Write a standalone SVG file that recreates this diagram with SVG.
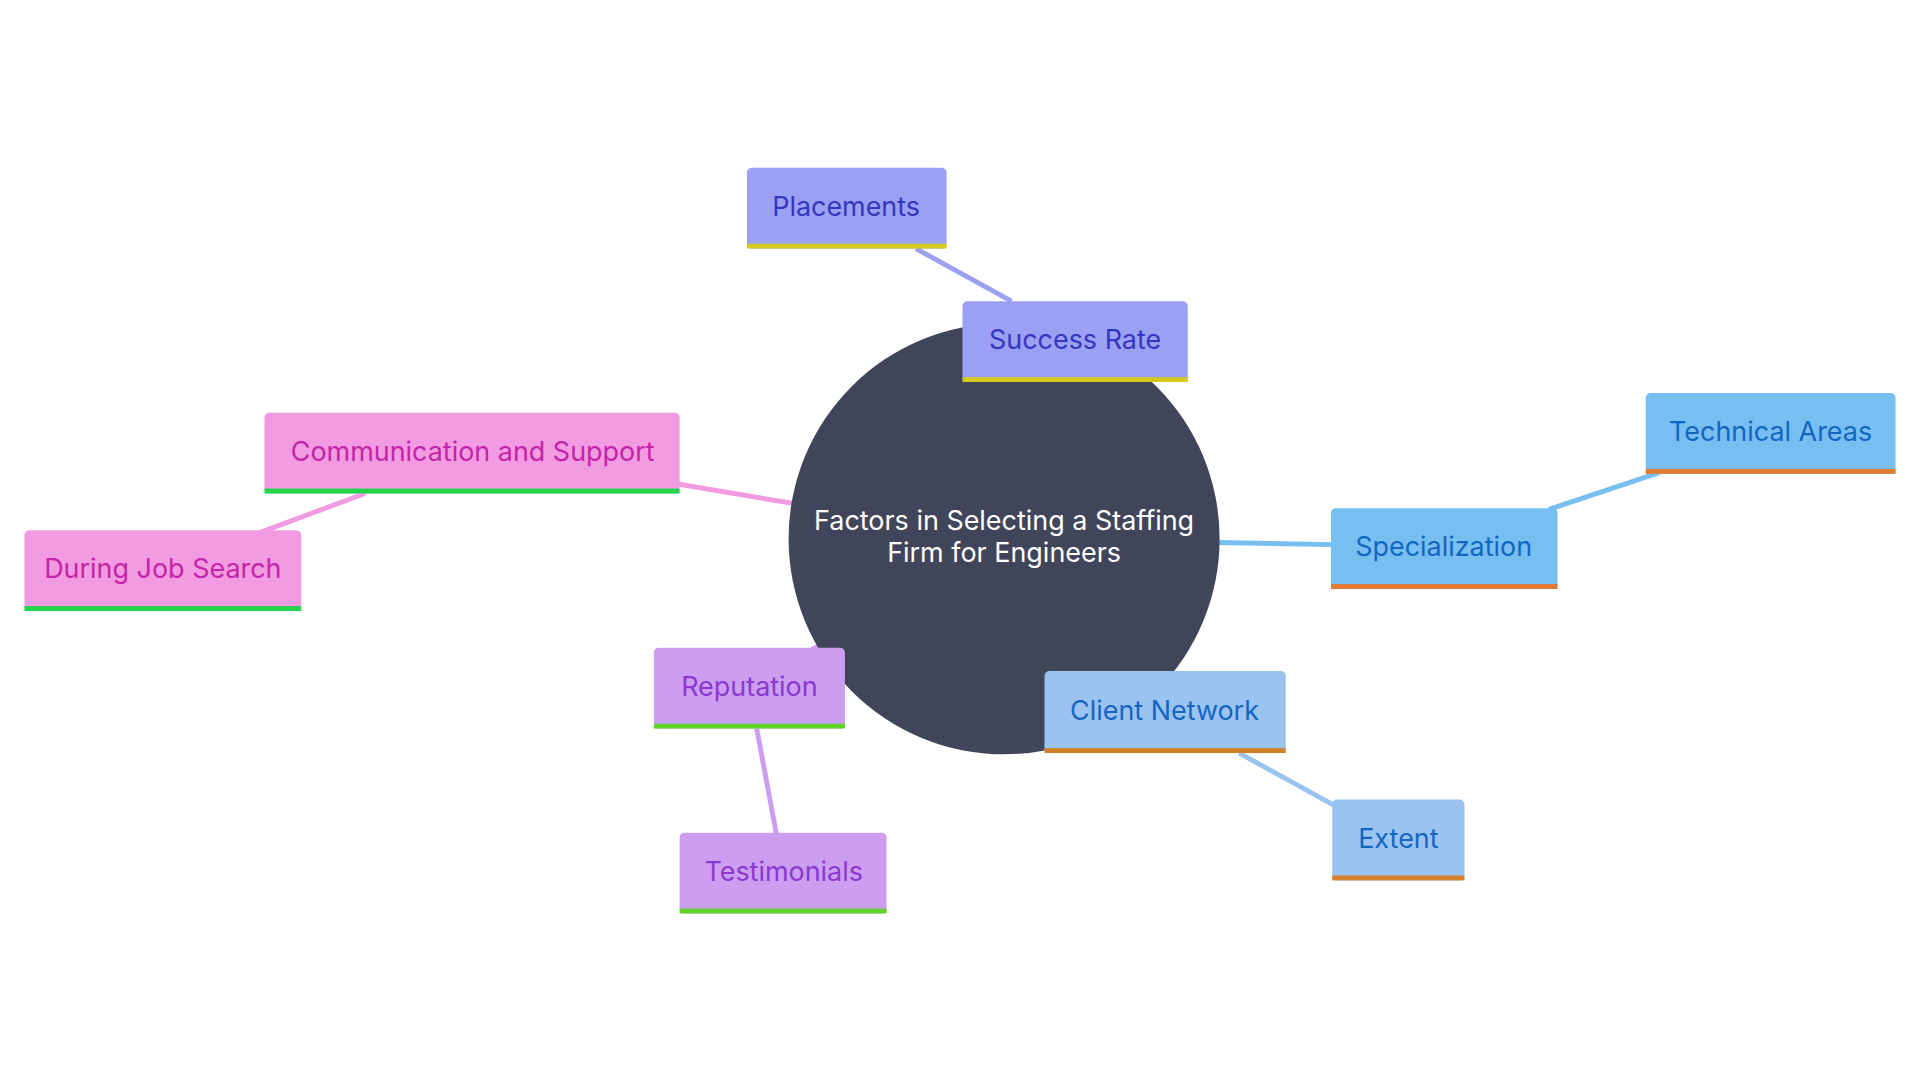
<svg xmlns="http://www.w3.org/2000/svg" width="1920" height="1080" viewBox="0 0 1920 1080">
<style>
text{font-family:Inter,"Open Sans","Liberation Sans",sans-serif;font-size:22px;text-anchor:middle;dominant-baseline:central}
.e{fill:none;stroke-width:4}
.ind{fill:#9ca0f2}.ind-t{fill:#3535c0}
.blu{fill:#76bff0}.blu-t{fill:#1565c0}
.lbl{fill:#9ac3f0}
.pur{fill:#cd9ef0}.pur-t{fill:#8a38d0}
.pnk{fill:#f29ae2}.pnk-t{fill:#c424a6}
</style>
<rect width="1920" height="1080" fill="#fff"/>
<g transform="scale(1.2245)">
<g id="connectors">
<line class="e" stroke="#9ca0f2" x1="748" y1="203" x2="826" y2="246"/>
<line class="e" stroke="#9ca0f2" x1="878" y1="279" x2="820" y2="440"/>
<line class="e" stroke="#76bff0" x1="820" y1="440" x2="1100" y2="445"/>
<line class="e" stroke="#76bff0" x1="1355" y1="386" x2="1265" y2="416"/>
<line class="e" stroke="#9ac3f0" x1="820" y1="440" x2="950" y2="580"/>
<line class="e" stroke="#9ac3f0" x1="1012" y1="615" x2="1090" y2="658"/>
<line class="e" stroke="#cd9ef0" x1="820" y1="440" x2="612" y2="560"/>
<line class="e" stroke="#cd9ef0" x1="618" y1="595" x2="634" y2="681"/>
<line class="e" stroke="#f29ae2" x1="540" y1="393" x2="820" y2="440"/>
<line class="e" stroke="#f29ae2" x1="298" y1="403" x2="212" y2="435"/>
</g>
<g id="center"><circle cx="820" cy="440" r="176" fill="#414559"/>
<text x="820" y="425" fill="#fff">Factors in Selecting a Staffing</text>
<text x="820" y="451" fill="#fff">Firm for Engineers</text></g>
<g id="placements"><rect class="ind" x="610" y="137" width="163" height="66" rx="4"/><rect x="610" y="199" width="163" height="4" fill="#d4c920"/><text class="ind-t" x="691" y="168">Placements</text></g>
<g id="success"><rect class="ind" x="786" y="246" width="184" height="66" rx="4"/><rect x="786" y="308" width="184" height="4" fill="#d4c920"/><text class="ind-t" x="878" y="277">Success Rate</text></g>
<g id="technical"><rect class="blu" x="1344" y="321" width="204" height="66" rx="4"/><rect x="1344" y="383" width="204" height="4" fill="#e07b30"/><text class="blu-t" x="1446" y="352">Technical Areas</text></g>
<g id="specialization"><rect class="blu" x="1087" y="415" width="185" height="66" rx="4"/><rect x="1087" y="477" width="185" height="4" fill="#e07b30"/><text class="blu-t" x="1179" y="446">Specialization</text></g>
<g id="client"><rect class="lbl" x="853" y="548" width="197" height="67" rx="4"/><rect x="853" y="611" width="197" height="4" fill="#d4802a"/><text class="blu-t" x="951" y="580">Client Network</text></g>
<g id="extent"><rect class="lbl" x="1088" y="653" width="108" height="66" rx="4"/><rect x="1088" y="715" width="108" height="4" fill="#d4802a"/><text class="blu-t" x="1142" y="684">Extent</text></g>
<g id="reputation"><rect class="pur" x="534" y="529" width="156" height="66" rx="4"/><rect x="534" y="591" width="156" height="4" fill="#5ed42a"/><text class="pur-t" x="612" y="560">Reputation</text></g>
<g id="testimonials"><rect class="pur" x="555" y="680" width="169" height="66" rx="4"/><rect x="555" y="742" width="169" height="4" fill="#5ed42a"/><text class="pur-t" x="640" y="711">Testimonials</text></g>
<g id="communication"><rect class="pnk" x="216" y="337" width="339" height="66" rx="4"/><rect x="216" y="399" width="339" height="4" fill="#22d44a"/><text class="pnk-t" x="386" y="368">Communication and Support</text></g>
<g id="during"><rect class="pnk" x="20" y="433" width="226" height="66" rx="4"/><rect x="20" y="495" width="226" height="4" fill="#22d44a"/><text class="pnk-t" x="133" y="464">During Job Search</text></g>
</g>
</svg>
